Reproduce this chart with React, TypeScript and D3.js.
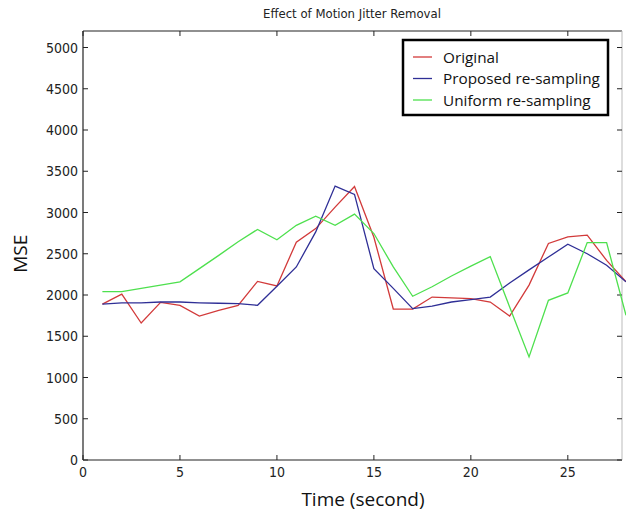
import React from "react";
import * as d3 from "d3";

const seconds = d3.range(1, 29);
const original = [1890, 2010, 1660, 1910, 1875, 1745, 1815, 1875, 2165, 2110, 2640, 2805, 3065, 3315, 2700, 1830, 1830, 1975, 1965, 1955, 1915, 1745, 2120, 2625, 2705, 2725, 2420, 2160];
const proposed = [1890, 1905, 1905, 1915, 1915, 1905, 1900, 1895, 1875, 2105, 2340, 2765, 3320, 3220, 2320, 2080, 1835, 1865, 1915, 1945, 1975, 2145, 2305, 2460, 2615, 2500, 2360, 2160];
const uniform = [2040, 2040, 2080, 2120, 2160, 2320, 2480, 2645, 2795, 2670, 2845, 2955, 2845, 2980, 2745, 2340, 1985, 2100, 2230, 2350, 2465, 1855, 1250, 1935, 2025, 2635, 2635, 1755];

const xTicks = [0, 5, 10, 15, 20, 25];
const yTicks = d3.range(0, 5001, 500);

const series = [
  { name: "Original", values: original, color: "#d23a3a" },
  { name: "Proposed re-sampling", values: proposed, color: "#2f2f96" },
  { name: "Uniform re-sampling", values: uniform, color: "#4ee04e" },
];

const W = 626;
const H = 515;
const left = 83;
const top = 31;
const bottom = 460;
const frameRight = 622;

export default function App() {
  const x = d3.scaleLinear().domain([0, 28]).range([left, 626]);
  const y = d3.scaleLinear().domain([0, 5200]).range([bottom, top]);
  const line = d3
    .line<number>()
    .x((_, i) => x(seconds[i]))
    .y((d) => y(d));

  const tickFont = "'Liberation Sans Narrow', 'DejaVu Sans Condensed', sans-serif";
  const textFont = "'Open Sans', 'Noto Sans', sans-serif";

  return (
    <svg
      width={W}
      height={H}
      style={{ position: "absolute", left: 0, top: 0, background: "#fff" }}
    >
      <text x={352} y={18} textAnchor="middle" fontFamily={tickFont} fontSize={13} fill="#222">
        Effect of Motion Jitter Removal
      </text>

      {/* frame */}
      <line x1={left} x2={left} y1={top} y2={bottom} stroke="#222" strokeWidth={1.2} />
      <line x1={left} x2={frameRight} y1={bottom} y2={bottom} stroke="#222" strokeWidth={1.2} />
      <line x1={left} x2={frameRight} y1={top} y2={top} stroke="#222" strokeWidth={1.2} />
      <line x1={frameRight} x2={frameRight} y1={top} y2={bottom} stroke="#bbb" strokeWidth={1} />

      {yTicks.map((t) => (
        <g key={"y" + t}>
          <line x1={left} x2={left + 5} y1={y(t)} y2={y(t)} stroke="#222" />
          <line x1={frameRight - 5} x2={frameRight} y1={y(t)} y2={y(t)} stroke="#222" />
          <text x={left - 5} y={y(t) + 5} textAnchor="end" fontFamily={tickFont} fontSize={14} fill="#222">
            {t}
          </text>
        </g>
      ))}
      {xTicks.map((t) => (
        <g key={"x" + t}>
          <line x1={x(t)} x2={x(t)} y1={bottom} y2={bottom - 5} stroke="#222" />
          <line x1={x(t)} x2={x(t)} y1={top} y2={top + 5} stroke="#222" />
          <text x={x(t)} y={bottom + 17} textAnchor="middle" fontFamily={tickFont} fontSize={14} fill="#222">
            {t}
          </text>
        </g>
      ))}

      <text x={363} y={506} textAnchor="middle" fontFamily={textFont} fontSize={19} fill="#111">
        Time (second)
      </text>
      <text
        transform={`translate(27, ${y(2500)}) rotate(-90)`}
        textAnchor="middle"
        fontFamily={textFont}
        fontSize={19}
        fill="#111"
      >
        MSE
      </text>

      {series.map((s) => (
        <path key={s.name} d={line(s.values) || ""} fill="none" stroke={s.color} strokeWidth={1.3} />
      ))}

      {/* legend */}
      <rect x={403} y={40} width={205} height={75} fill="#fff" stroke="#000" strokeWidth={2.5} />
      {series.map((s, i) => (
        <g key={"lg" + s.name}>
          <line x1={413} x2={432} y1={57 + i * 21.5} y2={57 + i * 21.5} stroke={s.color} strokeWidth={1.3} />
          <text x={443} y={62.5 + i * 21.5} fontFamily={textFont} fontSize={15.3} fill="#111">
            {s.name}
          </text>
        </g>
      ))}
    </svg>
  );
}
